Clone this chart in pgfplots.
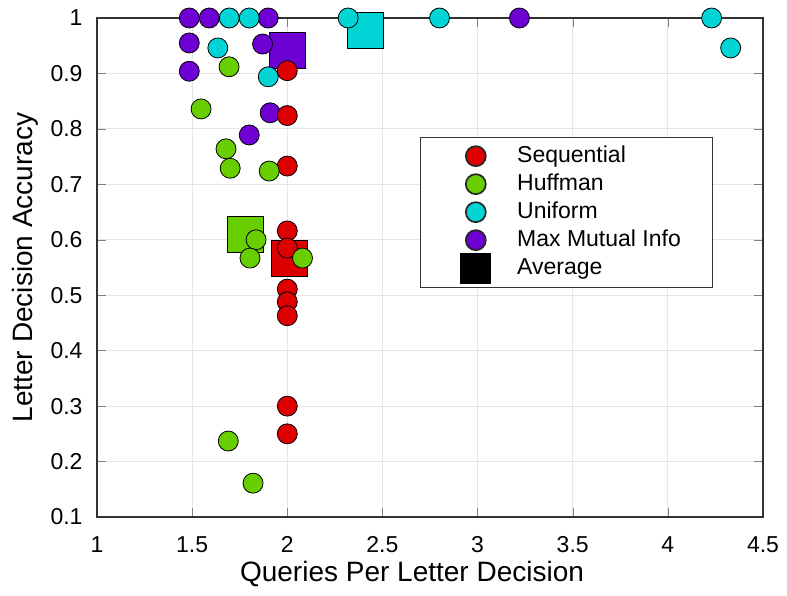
\documentclass[border=0pt]{standalone}
\usepackage{fontspec}
\setmainfont{Liberation Sans}
\usepackage{pgfplots}
\pgfplotsset{compat=1.18}
\definecolor{seqred}{RGB}{222,0,0}
\definecolor{hufgreen}{RGB}{104,206,0}
\definecolor{unicyan}{RGB}{0,212,212}
\definecolor{mmipurple}{RGB}{110,0,212}
\pgfplotsset{
  dotleg/.style={legend image code/.code={%
    \path (-13.5pt,0) (18.5pt,0);
    \draw[##1] plot coordinates {(0pt,0pt)};}},
}
\begin{document}
\begin{tikzpicture}
\begin{axis}[
    width=333pt, height=249.5pt, scale only axis,
    xmin=1, xmax=4.5, ymin=0.1, ymax=1,
    xtick={1,1.5,...,4.5},
    ytick={0.1,0.2,...,1.01},
    yticklabel style={/pgf/number format/fixed, /pgf/number format/precision=1,
        anchor=east, xshift=-3.7pt},
    xticklabel style={anchor=base, yshift=-17.75pt},
    /pgf/number format/assume math mode=true,
    tick label style={font=\fontsize{11.5}{13}\selectfont},
    label style={font=\fontsize{14}{16}\selectfont},
    xlabel={Queries Per Letter Decision},
    ylabel={Letter Decision Accuracy},
    xlabel style={at={(axis description cs:0.473,-0.130)}, anchor=base},
    ylabel style={at={(axis description cs:-0.0961,0.5)}, anchor=base},
    grid=major, major grid style={gray!20, line width=0.5pt},
    tick align=inside, axis line style={line width=0.6pt, black!80},
    clip=false,
    legend style={at={(0.485,0.762)}, anchor=north west, draw=black!80,
        font=\fontsize{11.5}{13}\selectfont, row sep=0pt,
        inner xsep=14pt, inner ysep=2.5pt,
        nodes={text height=8.5pt, text depth=2.5pt, inner ysep=1.5pt}},
    legend cell align=left,
    every axis plot/.append style={only marks, mark options={line width=0.85pt, draw=black!85}},
]
% averages
\addplot[forget plot, mark=square*, mark size=9pt, mark options={fill=hufgreen}] coordinates {(1.78,0.609)};
\addplot[forget plot, mark=square*, mark size=9pt, mark options={fill=seqred}] coordinates {(2.01,0.567)};
\addplot[forget plot, mark=square*, mark size=9pt, mark options={fill=mmipurple}] coordinates {(2.00,0.942)};
\addplot[forget plot, mark=square*, mark size=9pt, mark options={fill=unicyan}] coordinates {(2.41,0.977)};
% Max Mutual Info
\addplot[forget plot, mark=*, mark size=5pt, mark options={fill=mmipurple}] coordinates {
(1.485,1.0) (1.59,1.0) (1.90,1.0) (3.22,1.0)
(1.485,0.955) (1.485,0.904) (1.87,0.953) (1.91,0.829) (1.80,0.789)
};
% Uniform
\addplot[forget plot, mark=*, mark size=5pt, mark options={fill=unicyan}] coordinates {
(1.695,1.0) (1.80,1.0) (2.32,1.0) (2.80,1.0) (4.23,1.0)
(4.33,0.946) (1.635,0.946) (1.90,0.894)
};
% Sequential
\addplot[forget plot, mark=*, mark size=5pt, mark options={fill=seqred}] coordinates {
(2.0,0.905) (2.0,0.824) (2.0,0.733) (2.0,0.616) (2.0,0.585)
(2.0,0.511) (2.0,0.488) (2.0,0.463) (2.0,0.300) (2.0,0.250)
};
% Huffman
\addplot[forget plot, mark=*, mark size=5pt, mark options={fill=hufgreen}] coordinates {
(1.547,0.836) (1.694,0.912) (1.678,0.764) (1.70,0.729) (1.905,0.724)
(1.836,0.600) (1.804,0.567) (2.08,0.567) (1.69,0.237) (1.82,0.161)
};
\addlegendimage{dotleg, only marks, mark=*, mark size=5pt, mark options={fill=seqred, draw=black!85, line width=0.85pt}}
\addlegendentry{Sequential}
\addlegendimage{dotleg, only marks, mark=*, mark size=5pt, mark options={fill=hufgreen, draw=black!85, line width=0.85pt}}
\addlegendentry{Huffman}
\addlegendimage{dotleg, only marks, mark=*, mark size=5pt, mark options={fill=unicyan, draw=black!85, line width=0.85pt}}
\addlegendentry{Uniform}
\addlegendimage{dotleg, only marks, mark=*, mark size=5pt, mark options={fill=mmipurple, draw=black!85, line width=0.85pt}}
\addlegendentry{Max Mutual Info}
\addlegendimage{legend image code/.code={%
    \path (-13.5pt,0) (18.5pt,0);
    \fill[black, overlay] (-7.5pt,-7.5pt) rectangle (7.5pt,7.5pt);}}
\addlegendentry{Average}
\end{axis}
\path (current axis.south west) ++(-48.5pt,-39pt) coordinate (bl);
\path (current axis.north east) ++(12pt,9pt) coordinate (tr);
\pgfresetboundingbox
\useasboundingbox (bl) rectangle (tr);
\end{tikzpicture}
\end{document}
